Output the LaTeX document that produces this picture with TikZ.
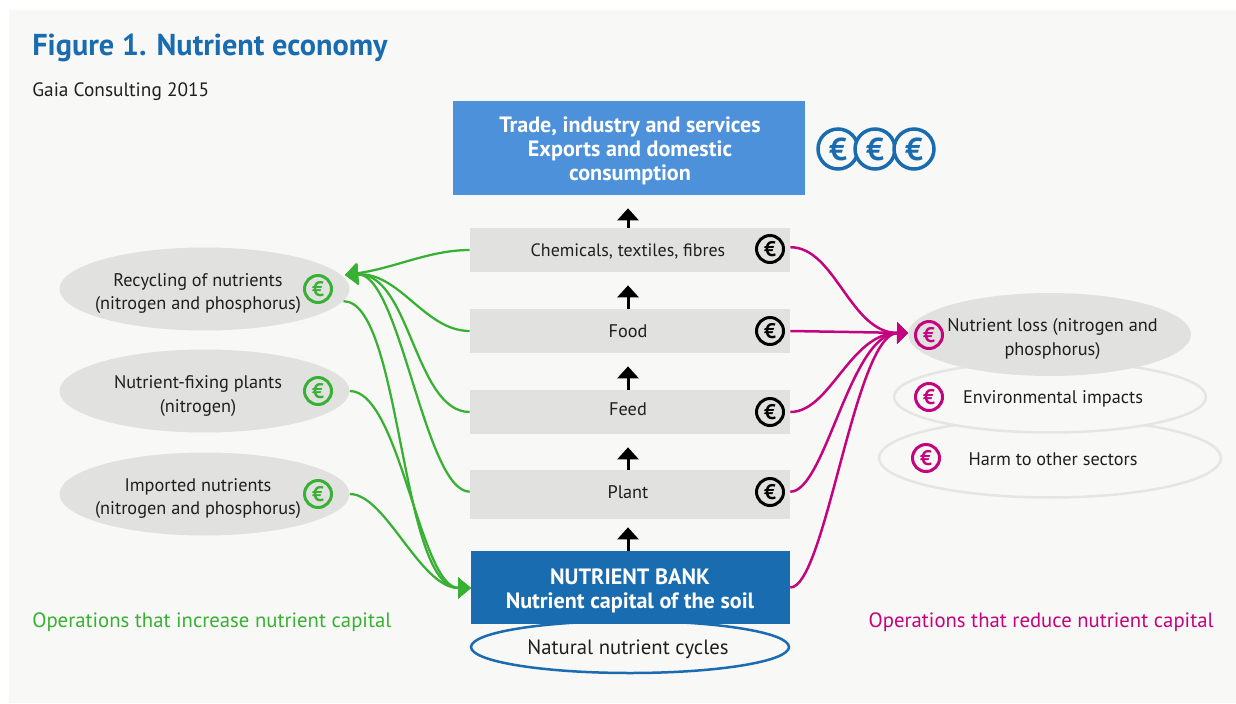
\documentclass[tikz,border=0pt]{standalone}
\usepackage{fontspec}
\setmainfont{PT Sans}
\usetikzlibrary{shapes.geometric,arrows.meta}
\definecolor{panel}{HTML}{F8F8F6}
\definecolor{greybox}{HTML}{E1E1DF}
\definecolor{greyline}{HTML}{E5E5E3}
\definecolor{topblue}{HTML}{4E91DB}
\definecolor{bankblue}{HTML}{1A6CB0}
\definecolor{plusgreen}{HTML}{38B034}
\definecolor{lossred}{HTML}{C4037F}
\tikzset{
    x=0.02cm, y=-0.02cm,
    greybar/.style={rectangle, fill=greybox, minimum width=6.4cm, inner sep=0},
    greyoval/.style={ellipse, fill=greybox, minimum width=5.8cm, minimum height=1.66cm, inner sep=0},
    lineoval/.style={ellipse, draw=greyline, fill=panel, line width=0.05cm, inner sep=0},
    say/.style={align=center, inner sep=0, text=black!88, font=\fontsize{10.4}{13.1}\selectfont},
    loud/.style={align=center, inner sep=0, text=white, font=\fontsize{12.6}{13.7}\selectfont\bfseries},
    euro/.style={circle, draw, fill=none, line width=0.06cm, minimum size=0.54cm, inner sep=0, font=\fontsize{12}{12}\selectfont\bfseries},
    bigeuro/.style={euro, draw=bankblue, text=bankblue, fill=panel, line width=0.07cm, minimum size=0.8cm, font=\fontsize{18}{18}\selectfont\bfseries},
    upline/.style={-{Triangle[length=0.24cm,width=0.42cm]}, line width=0.06cm, black, shorten >=0.26cm},
    plusline/.style={-{Triangle[length=0.26cm,width=0.42cm]}, line width=0.045cm, plusgreen},
    lossline/.style={-{Triangle[length=0.22cm,width=0.42cm]}, line width=0.05cm, lossred}
}
\begin{document}
\begin{tikzpicture}
    \useasboundingbox (0,0) rectangle (1236,703);
    \fill[panel] (9,10) rectangle (1236,703);

    \node[anchor=west, inner sep=0, text=bankblue, font=\fontsize{17.2}{18}\selectfont\bfseries] (Title) at (32,48) {Figure 1. Nutrient economy};
    \node[anchor=west, say, font=\fontsize{11}{13}\selectfont] (Source) at (32,92) {Gaia Consulting 2015};

    \node[rectangle, fill=topblue, minimum width=7.04cm, minimum height=1.88cm] (Top) at (629,148) {};
    \node[loud] (TopText) at (630,151) {Trade, industry and services\\Exports and domestic\\consumption};
    \node[bigeuro] (Eur1) at (838,149) {€};
    \node[bigeuro] (Eur2) at (875,149) {€};
    \node[bigeuro] (Eur3) at (914,149) {€};

    \node[greybar, minimum height=0.88cm] (Chem) at (630,250) {};
    \node[greybar, minimum height=0.88cm] (Food) at (630,331) {};
    \node[greybar, minimum height=0.88cm] (Feed) at (630,412) {};
    \node[greybar, minimum height=0.98cm] (Plant) at (630,494.5) {};
    \node[say, font=\fontsize{10.2}{13}\selectfont] (ChemText) at (628,251) {Chemicals, textiles, fibres};
    \node[say] (FoodText) at (628,331) {Food};
    \node[say] (FeedText) at (628,409) {Feed};
    \node[say] (PlantText) at (628,492) {Plant};
    \foreach \name/\ypos in {Chem/249, Food/331, Feed/412, Plant/492}
        \node[euro, draw=black, text=black] (\name Eur) at (770,\ypos) {€};

    \node[ellipse, draw=bankblue, fill=panel, line width=0.05cm, minimum width=6.36cm, minimum height=1.04cm, inner sep=0] (Cycles) at (630,647) {};
    \node[say, font=\fontsize{11.8}{13}\selectfont] (CyclesText) at (628,649) {Natural nutrient cycles};
    \node[rectangle, fill=bankblue, minimum width=6.38cm, minimum height=1.46cm] (Bank) at (630.5,587.5) {};
    \node[loud, text=white] (BankText) at (630,591) {NUTRIENT BANK\\Nutrient capital of the soil};

    \foreach \lower/\upper in {Chem/Top, Food/Chem, Feed/Food, Plant/Feed}
        \draw[upline] (\lower.north -| 628,0) -- (\upper.south -| 628,0);
    \draw[upline, shorten >=0.16cm] (Bank.north -| 628,0) -- (Plant.south -| 628,0);

    \node[greyoval] (Recycle) at (204.5,289) {};
    \node[greyoval] (Fixing) at (204.5,391) {};
    \node[greyoval] (Import) at (204.5,494) {};
    \node[say] (RecycleText) at (198,294) {Recycling of nutrients\\(nitrogen and phosphorus)};
    \node[say] (FixingText) at (198,396) {Nutrient-fixing plants\\(nitrogen)};
    \node[say] (ImportText) at (198,499) {Imported nutrients\\(nitrogen and phosphorus)};
    \foreach \name/\ypos in {Recycle/289, Fixing/391, Import/494}
        \node[euro, draw=plusgreen, text=plusgreen] (\name Eur) at (318,\ypos) {€};

    \node[lineoval, minimum width=6.84cm, minimum height=1.58cm] (Harm) at (1050,458) {};
    \node[lineoval, minimum width=6.24cm, minimum height=1.42cm] (Impact) at (1050,397) {};
    \node[greyoval, minimum width=5.66cm] (Loss) at (1049.5,334.5) {};
    \node[say] (LossText) at (1052.5,339) {Nutrient loss (nitrogen and\\phosphorus)};
    \node[say] (ImpactText) at (1053,399) {Environmental impacts};
    \node[say] (HarmText) at (1053,459) {Harm to other sectors};
    \node[euro, draw=lossred, text=lossred] (LossEur) at (929,335) {€};
    \node[euro, draw=lossred, text=lossred] (ImpactEur) at (929,397) {€};
    \node[euro, draw=lossred, text=lossred] (HarmEur) at (926,458) {€};

    \coordinate (RecycleTip) at (345,275);
    \coordinate (BankTip) at (471,588);
    \coordinate (LossTip) at (908,333);

    \draw[plusline] (Chem.west) .. controls +(-40,0) and +(50,-7) .. (RecycleTip);
    \draw[plusline] (Food.west) .. controls +(-45,0) and +(55,-3) .. (RecycleTip);
    \draw[plusline] (Feed.west) .. controls +(-55,0) and +(65,-3) .. (RecycleTip);
    \draw[plusline] (Plant.179) .. controls +(-45,0) and +(55,-3) .. (RecycleTip);
    \draw[plusline] (Recycle.-5.7) .. controls +(58,0) and +(-71,0) .. (BankTip);
    \draw[plusline] (Fixing.east) .. controls +(50,0) and +(-51,0) .. (BankTip);
    \draw[plusline] (Import.east) .. controls +(36,0) and +(-51,0) .. (BankTip);

    \draw[lossline] (Chem.1) .. controls +(45,0) and +(-58,0) .. (LossTip);
    \draw[lossline] (Food.east) -- (LossTip);
    \draw[lossline] (Feed.east) .. controls +(40,0) and +(-58,0) .. (LossTip);
    \draw[lossline] (Plant.1) .. controls +(35,0) and +(-58,0) .. (LossTip);
    \draw[lossline] (Bank.east) .. controls +(35,0) and +(-53,0) .. (LossTip);

    \node[anchor=west, inner sep=0, text=plusgreen, font=\fontsize{11.8}{13}\selectfont] (Plus) at (32,622) {Operations that increase nutrient capital};
    \node[anchor=east, inner sep=0, text=lossred, font=\fontsize{11.8}{13}\selectfont] (Minus) at (1214,622) {Operations that reduce nutrient capital};
\end{tikzpicture}
\end{document}
